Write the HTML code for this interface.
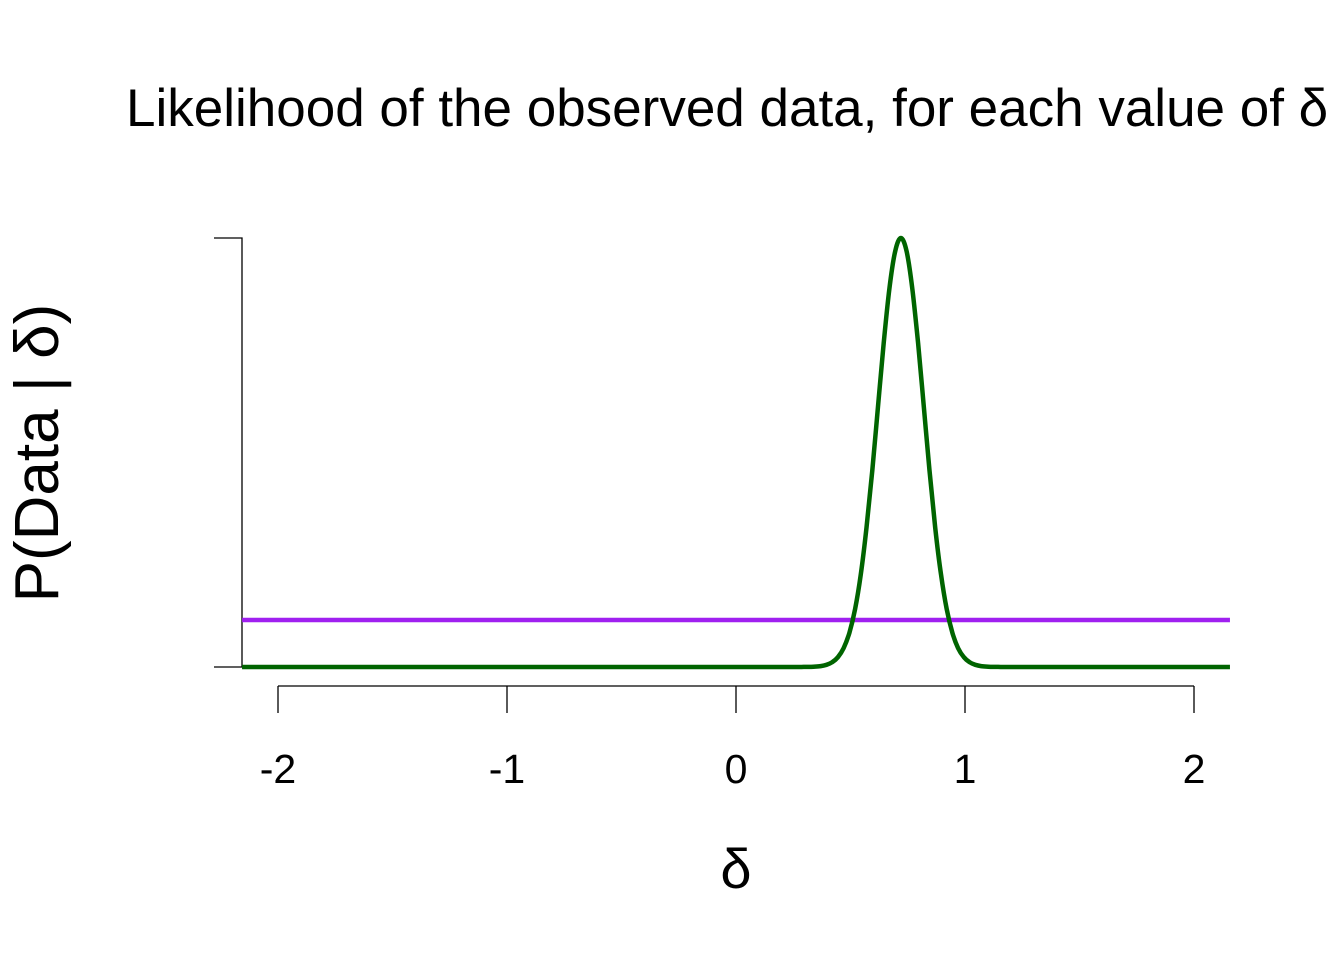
<!DOCTYPE html>
<html><head><meta charset="utf-8"><style>
html,body{margin:0;padding:0;background:#fff;overflow:hidden}
svg{display:block;font-family:"Liberation Sans",Arial,sans-serif}
</style></head><body>
<svg id="chart" width="1344" height="960" viewBox="0 0 1344 960">
<text x="126" y="126" font-size="53">Likelihood of the observed data, for each value of δ</text>
<text transform="translate(58,453) rotate(-90)" text-anchor="middle" font-size="62">P(Data | δ)</text>
<text x="736" y="888" text-anchor="middle" font-size="56">δ</text>
<g id="axes"></g>
<g id="marks"></g>
</svg>
<script>
const xTicks = [-2, -1, 0, 1, 2];
const xTickLabels = ["-2", "-1", "0", "1", "2"];
const deltaValues = [-2.157,0.27,0.295,0.32,0.345,0.37,0.395,0.42,0.445,0.47,0.495,0.52,0.545,0.57,0.595,0.62,0.645,0.67,0.695,0.72,0.745,0.77,0.795,0.82,0.845,0.87,0.895,0.92,0.945,0.97,0.995,1.02,1.045,1.07,1.095,1.12,1.145,1.17,2.157];
const likelihoodValues = [0,0.00004,0.00012,0.00034,0.00088,0.0022,0.0051,0.0111,0.0228,0.0439,0.0796,0.135,0.216,0.325,0.458,0.607,0.755,0.882,0.969,1,0.969,0.882,0.755,0.607,0.458,0.325,0.216,0.135,0.0796,0.0439,0.0228,0.0111,0.0051,0.0022,0.00088,0.00034,0.00012,0.00004,0];
const uniformLevel = [0.1096];
const xDomain = [-2.157, 2.157];
const NS = "http://www.w3.org/2000/svg";
function xs(v){ return 736 + v * 229; }
function ys(v){ return 667 - v * 429; }
function mk(tag, attrs, parent){
  const e = document.createElementNS(NS, tag);
  for (const k in attrs) e.setAttribute(k, attrs[k]);
  parent.appendChild(e); return e;
}
const axes = document.getElementById('axes');
const marks = document.getElementById('marks');
let ya = mk('path', {d:`M214,${ys(1)}H242V${ys(0)}H214`, fill:'none', stroke:'#000', 'stroke-width':1.3}, axes);


let xa = mk('line', {x1:xs(xTicks[0]), x2:xs(xTicks[xTicks.length-1]), y1:686, y2:686, stroke:'#000', 'stroke-width':1.3}, axes);


xTicks.forEach((t,i)=>{
  const tk = mk('line', {x1:xs(t), x2:xs(t), y1:686, y2:713, stroke:'#000', 'stroke-width':1.3}, axes);
  
  
  const lb = mk('text', {x:xs(t), y:783, 'text-anchor':'middle', 'font-size':41}, axes);
  lb.textContent = xTickLabels[i];
  
  
});
const ul = mk('line', {x1:xs(xDomain[0]), x2:xs(xDomain[1]), y1:ys(uniformLevel[0]), y2:ys(uniformLevel[0]), stroke:'#A020F0', 'stroke-width':4.5}, marks);


const P = deltaValues.map((d,i)=>[xs(d), ys(likelihoodValues[i])]);
let d = `M${P[0][0]},${P[0][1]}L${P[1][0]},${P[1][1]}`;
for (let i=1;i<P.length-2;i++){
  const p0=P[i-1],p1=P[i],p2=P[i+1],p3=P[i+2];
  const c1=[p1[0]+(p2[0]-(i===1?p1[0]:p0[0]))/6, p1[1]+(p2[1]-p0[1])/6];
  const c2=[p2[0]-((i===P.length-3?p2[0]:p3[0])-p1[0])/6, p2[1]-(p3[1]-p1[1])/6];
  d += `C${c1[0].toFixed(1)},${c1[1].toFixed(1)} ${c2[0].toFixed(1)},${c2[1].toFixed(1)} ${p2[0].toFixed(1)},${p2[1].toFixed(1)}`;
}
d += `L${P[P.length-1][0]},${P[P.length-1][1]}`;
const cv = mk('path', {d:d, fill:'none', stroke:'#006400', 'stroke-width':4.5, 'stroke-linejoin':'round'}, marks);


</script>
</body></html>
